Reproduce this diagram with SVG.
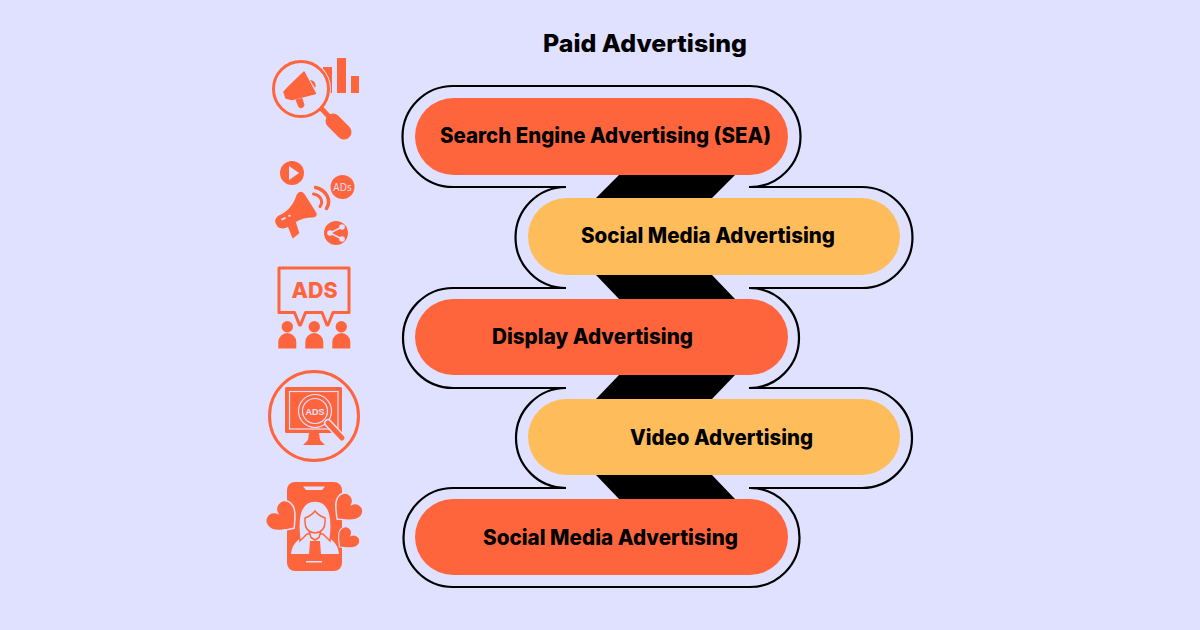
<svg xmlns="http://www.w3.org/2000/svg" width="1200" height="630" viewBox="0 0 1200 630">
<defs>
<style>
.t{font-family:"Inter","Liberation Sans",Arial,sans-serif;font-weight:800;fill:#000}
.o{fill:#FF653D}
.y{fill:#FFBC5B}
.l{fill:none;stroke:#000;stroke-width:2.2}
.i{fill:#FF653D}
.is{fill:none;stroke:#FF653D;stroke-width:3}
.b{fill:#E0E1FF}
</style>
<path id="heart" d="M0,11 C-5,7 -13,2 -13,-4 A6.700,6.700 0 0 1 0,-7 A6.700,6.700 0 0 1 13,-4 C13,2 5,7 0,11Z"/>
</defs>
<rect width="1200" height="630" fill="#E0E1FF"/>
<text class="t" x="543" y="52" font-size="24" textLength="204" lengthAdjust="spacingAndGlyphs">Paid Advertising</text>

<g id="connectors">
<polygon points="619,175 735,175 712,198 596,198"/>
<polygon points="596,275 712,275 735,299 619,299"/>
<polygon points="619,375 735,375 712,399 596,399"/>
<polygon points="596,475 712,475 735,499 619,499"/>
<path class="l" d="M566,187 H453 A50.5,50.5 0 0 1 453,86 H750 A50.5,50.5 0 0 1 750,187"/>
<path class="l" d="M749,187 H862 A50.5,50.5 0 0 1 862,288 H749"/>
<path class="l" d="M566,187 A50.5,50.5 0 0 0 566,288"/>
<path class="l" d="M566,288 H453 A50,50 0 0 0 453,388 H566"/>
<path class="l" d="M749,288 A50,50 0 0 1 749,388"/>
<path class="l" d="M749,388 H862 A50,50 0 0 1 862,488 H749"/>
<path class="l" d="M566,388 A50,50 0 0 0 566,488"/>
<path class="l" d="M566,488 H453 A49.500,49.500 0 0 0 453,587 H750 A49.500,49.500 0 0 0 750,488"/>
</g>

<g id="node-sea">
<rect class="o" x="415" y="98" width="373" height="77" rx="38.5"/>
<text class="t" x="440" y="143" font-size="21" textLength="331" lengthAdjust="spacingAndGlyphs">Search Engine Advertising (SEA)</text>
</g>
<g id="node-social-1">
<rect class="y" x="528" y="198" width="372" height="77" rx="38.5"/>
<text class="t" x="581" y="243" font-size="21" textLength="254" lengthAdjust="spacingAndGlyphs">Social Media Advertising</text>
</g>
<g id="node-display">
<rect class="o" x="415" y="299" width="373" height="76" rx="38"/>
<text class="t" x="492" y="344" font-size="21" textLength="201" lengthAdjust="spacingAndGlyphs">Display Advertising</text>
</g>
<g id="node-video">
<rect class="y" x="528" y="399" width="372" height="76" rx="38"/>
<text class="t" x="630" y="445" font-size="21" textLength="183" lengthAdjust="spacingAndGlyphs">Video Advertising</text>
</g>
<g id="node-social-2">
<rect class="o" x="415" y="499" width="373" height="76" rx="38"/>
<text class="t" x="483" y="545" font-size="21" textLength="255" lengthAdjust="spacingAndGlyphs">Social Media Advertising</text>
</g>

<g id="icon-search">
<rect class="i" x="323" y="67" width="9" height="26"/>
<rect class="i" x="337" y="58" width="9" height="35"/>
<rect class="i" x="351" y="76" width="8" height="17"/>
<circle cx="301" cy="89" r="30" class="b"/>
<circle cx="301" cy="89" r="27.500" class="is" stroke-width="3.400"/>
<path d="M321,108 L332,120" stroke="#FF653D" stroke-width="5" fill="none"/>
<path d="M333,121 L344,132" stroke="#FF653D" stroke-width="15" fill="none" stroke-linecap="round"/>
<path class="i" stroke="#FF653D" stroke-width="1.500" stroke-linejoin="round" d="M304,72 L315.500,93.500 L292,99.500 L286,98 L284,92 L288,87.500Z"/>
<path class="i" d="M310,80 A5.500,5.500 0 0 1 315,88Z"/>
<path class="i" stroke="#FF653D" stroke-width="1" d="M296,100 L302,98.500 L304,105 A3,3 0 0 1 299,107Z"/>
</g>

<g id="icon-social">
<circle class="i" cx="292" cy="173" r="12"/>
<path class="b" d="M289,166 L299,173 L289,180Z"/>
<circle class="i" cx="342.500" cy="187" r="12"/>
<text x="342.500" y="190.500" font-family="'Open Sans','Liberation Sans',sans-serif" font-size="10" text-anchor="middle" fill="#E0E1FF">ADs</text>
<circle class="i" cx="336" cy="233" r="12"/>
<path d="M342,227 L330,233 L342,239" fill="none" stroke="#E0E1FF" stroke-width="1.500"/>
<circle class="b" cx="342" cy="227" r="2.800"/>
<circle class="b" cx="330" cy="233" r="2.800"/>
<circle class="b" cx="342" cy="239" r="2.800"/>
<path class="i" d="M275,221 Q276,216 281,214.500 C288,211 294,204 296.500,195 Q300,189 304.500,194 L316.500,213 Q317.500,217 313,217.500 C304,217 296,221 287,227.500 Q277,231 275,221Z"/>
<path class="i" stroke="#FF653D" stroke-width="1.500" stroke-linejoin="round" d="M288,225 L295,222 L298.500,233 L293,237.500Z"/>
<path class="b" d="M281,219 L285,217 L286,218.500 L282,220.500Z M288,215.500 L290,214.500 L291,216 L289,217Z"/>
<path d="M315.500,187.500 C326,190 332,200 326.500,208.500" fill="none" stroke="#FF653D" stroke-width="3.500" stroke-linecap="round"/>
<path d="M313.500,194 C320,195 324,201 320,206.500" fill="none" stroke="#FF653D" stroke-width="3" stroke-linecap="round"/>
</g>

<g id="icon-ads">
<path class="is" stroke-linejoin="round" d="M279,268 H349 V312.500 H333 L328,325 H327 L322,312.500 H305.500 L300.500,325 H299.500 L294.500,312.500 H279Z"/>
<text x="291.500" y="298.300" font-family="Inter,'Liberation Sans',sans-serif" font-weight="800" font-size="22" textLength="46" lengthAdjust="spacingAndGlyphs" fill="#FF653D">ADS</text>
<circle class="i" cx="287.300" cy="326.700" r="5.700"/>
<path class="i" d="M278.300,348.500 V342 A9,9 0 0 1 296.300,342 V348.500Z"/>
<circle class="i" cx="314.300" cy="326.700" r="5.700"/>
<path class="i" d="M305.300,348.500 V342 A9,9 0 0 1 323.300,342 V348.500Z"/>
<circle class="i" cx="341.300" cy="326.700" r="5.700"/>
<path class="i" d="M332.300,348.500 V342 A9,9 0 0 1 350.300,342 V348.500Z"/>
</g>

<g id="icon-video">
<circle class="is" cx="314" cy="416" r="44.500" stroke-width="2.500"/>
<rect class="i" x="285" y="387" width="57" height="46" rx="1.500"/>
<rect x="289.500" y="391.500" width="48.500" height="37.500" fill="none" stroke="#E0E1FF" stroke-width="1.200"/>
<path class="i" d="M309,433 H319 L320,440 L325,445 H303 L308,440Z"/>
<circle cx="315" cy="411" r="16.500" class="i" stroke="#E0E1FF" stroke-width="1.200"/>
<circle cx="315" cy="411" r="12.500" fill="none" stroke="#E0E1FF" stroke-width="1.200"/>
<path d="M328,423 L342,438" stroke="#E0E1FF" stroke-width="8" stroke-linecap="round"/>
<path d="M328,423 L342,438" stroke="#FF653D" stroke-width="5" stroke-linecap="round"/>
<text x="315" y="414.500" font-family="'Liberation Sans',sans-serif" font-size="9" font-weight="700" text-anchor="middle" fill="#E0E1FF">ADS</text>
</g>

<g id="icon-phone">
<rect class="i" x="287" y="482" width="55" height="89" rx="8"/>
<path class="b" d="M303,486.500 H325 L322,490 H306Z"/>
<rect class="b" x="306" y="561" width="16" height="1.500"/>
<path class="b" d="M291,554 C292,542 300,539 307,533 H323 C330,539 338,542 339,554Z"/>
<path class="b" stroke="#FF653D" stroke-width="1.500" d="M300,541 C297,520 299,501 315,501 C331,501 333,520 330,541 L323,534 H307Z"/>
<path class="i" d="M310,541 H320 L321,554 H309Z"/>
<path class="b" stroke="#FF653D" stroke-width="1.500" stroke-linejoin="round" d="M309,531 L311,537.500 L315,540 L319,537.500 L321,531Z"/>
<path class="b" stroke="#FF653D" stroke-width="1.500" d="M305,518 Q311,516 315,511 Q319,516 325,518 V522 Q325,532 315,533 Q305,532 305,522Z"/>
<g fill="#FF653D" stroke="#E0E1FF" stroke-width="1.200">
<use href="#heart" transform="translate(284,519) rotate(-48) scale(1.250)"/>
<use href="#heart" transform="translate(346,510) rotate(45) scale(1.150)"/>
<use href="#heart" transform="translate(346.500,540) rotate(45) scale(0.900)"/>
</g>
</g>
</svg>
